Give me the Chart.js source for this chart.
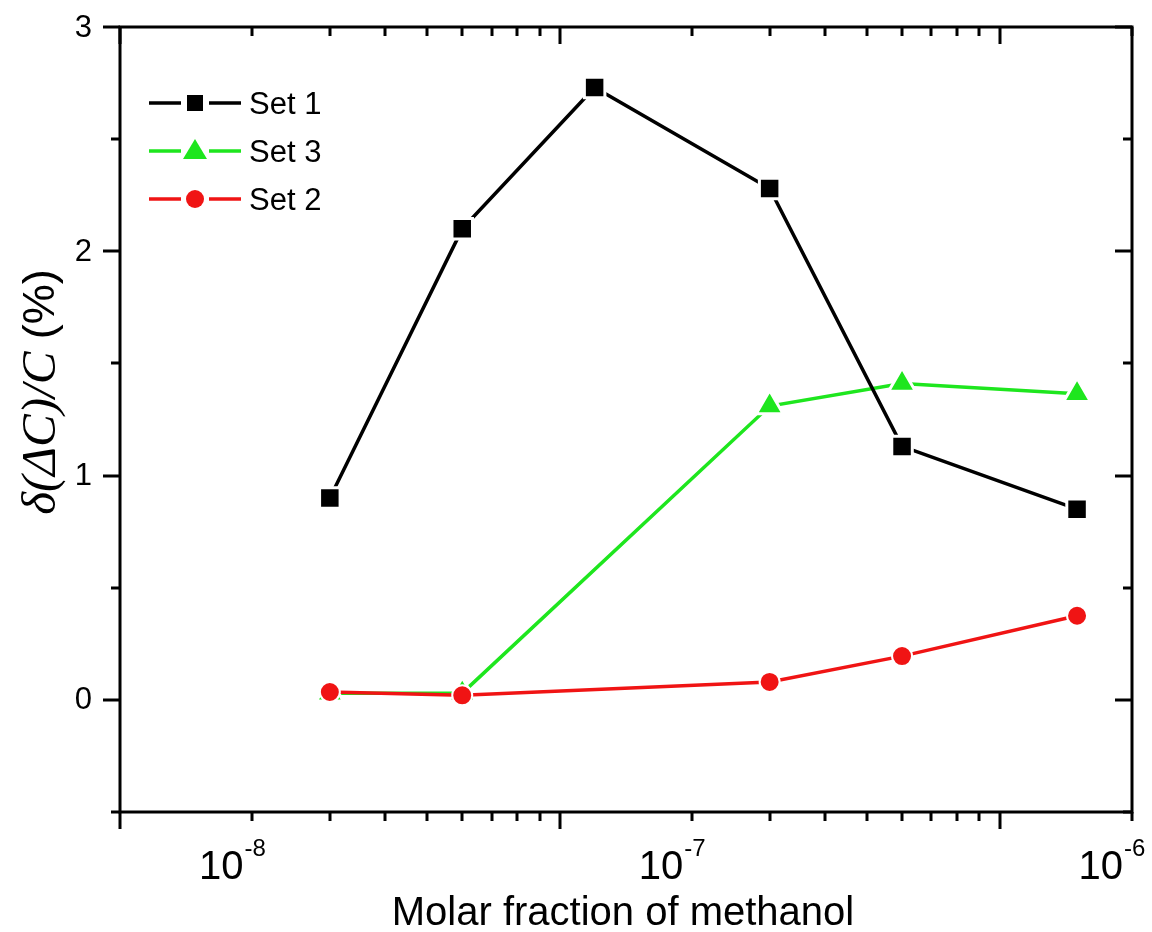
<!DOCTYPE html>
<html>
<head>
<meta charset="utf-8">
<script src="https://cdn.jsdelivr.net/npm/chart.js@4.4.1/dist/chart.umd.min.js"></script>
<style>
  html, body { margin: 0; padding: 0; background: #fff; }
  #wrap { width: 1152px; height: 932px; }
</style>
</head>
<body>
<div id="wrap"><canvas id="chart" width="1152" height="932"></canvas></div>
<script>
// Data
const xSet1 = [1.5e-8, 3e-8, 6e-8, 1.5e-7, 3e-7, 7.5e-7];
const ySet1 = [0.90, 2.10, 2.73, 2.28, 1.13, 0.85];

const xSet23 = [1.5e-8, 3e-8, 1.5e-7, 3e-7, 7.5e-7];
const ySet3 = [0.03, 0.03, 1.31, 1.41, 1.365];
const ySet2 = [0.035, 0.02, 0.08, 0.195, 0.375];

// Axis ticks / labels
const xLabelValues = [1e-8, 1e-7, 1e-6];
const xLabelExps = ['-8', '-7', '-6'];
const xTickStart = 5e-9;           // ticks run k * 5e-9 * 10^n, k = 1 is the long one
const yMajor = [0, 1, 2, 3];
const yMinor = [-0.5, 0.5, 1.5, 2.5];
const legendItems = ['Set 1', 'Set 3', 'Set 2'];

const BLACK = '#000000';
const GREEN = '#1ee61e';
const RED = '#f01414';
const SANS = '"Liberation Sans", Arial, sans-serif';

function pts(xs, ys) {
    return xs.map((x, i) => ({ x: x, y: ys[i] }));
}

function xTicks() {
    const list = [];
    for (let n = 0; n < 3; n++) {
        for (let k = 1; k <= 9; k++) {
            const v = k * xTickStart * Math.pow(10, n);
            if (v <= 1.0001e-6) list.push({ v: v, long: k === 1 });
        }
    }
    return list;
}

const frame = {
    id: 'frame',
    afterDraw(chart) {
        const ctx = chart.ctx;
        const a = chart.chartArea;
        const xs = chart.scales.x;
        const ys = chart.scales.y;
        const LONG = 17, SHORT = 9;

        ctx.save();
        ctx.strokeStyle = BLACK;
        ctx.lineWidth = 3;
        ctx.lineCap = 'butt';
        ctx.strokeRect(a.left, a.top, a.right - a.left, a.bottom - a.top);

        ctx.beginPath();
        xTicks().forEach(t => {
            const px = Math.round(xs.getPixelForValue(t.v));
            const len = t.long ? LONG : SHORT;
            ctx.moveTo(px, a.bottom); ctx.lineTo(px, a.bottom + len);
            ctx.moveTo(px, a.top); ctx.lineTo(px, a.top + len);
        });
        yMajor.concat(yMinor).forEach(v => {
            const py = Math.round(ys.getPixelForValue(v));
            const len = yMajor.includes(v) ? LONG : SHORT;
            ctx.moveTo(a.left, py); ctx.lineTo(a.left - len, py);
            ctx.moveTo(a.right, py); ctx.lineTo(a.right - len, py);
        });
        ctx.stroke();

        // y tick labels
        ctx.fillStyle = BLACK;
        ctx.font = '31px ' + SANS;
        ctx.textAlign = 'right';
        ctx.textBaseline = 'middle';
        yMajor.forEach(v => {
            ctx.fillText(String(v), a.left - 28, ys.getPixelForValue(v) + 1);
        });

        // x tick labels 10^n
        ctx.textAlign = 'left';
        ctx.textBaseline = 'alphabetic';
        xLabelValues.forEach((v, i) => {
            const px = xs.getPixelForValue(v);
            ctx.font = '40px ' + SANS;
            const wBase = ctx.measureText('10').width;
            ctx.font = '24px ' + SANS;
            const wExp = ctx.measureText(xLabelExps[i]).width;
            const left = px - 20 - (wBase + wExp + 1) / 2;
            ctx.font = '40px ' + SANS;
            ctx.fillText('10', left, a.bottom + 67);
            ctx.font = '24px ' + SANS;
            ctx.fillText(xLabelExps[i], left + wBase + 1, a.bottom + 44);
        });

        // x title
        ctx.font = '40px ' + SANS;
        ctx.textAlign = 'center';
        ctx.fillText('Molar fraction of methanol', (a.left + a.right) / 2 - 3, 925);

        // y title, mixed italic
        ctx.translate(42, 392);
        ctx.rotate(-Math.PI / 2);
        const parts = [
            { t: 'δ(ΔC)/C', f: 'italic 49px "Liberation Serif", "Times New Roman", serif' },
            { t: ' (%)', f: '45px ' + SANS }
        ];
        let total = 0;
        parts.forEach(p => { ctx.font = p.f; p.w = ctx.measureText(p.t).width; total += p.w; });
        let cx = -total / 2;
        ctx.textAlign = 'left';
        ctx.textBaseline = 'middle';
        parts.forEach(p => { ctx.font = p.f; ctx.fillText(p.t, cx, 0); cx += p.w; });
        ctx.restore();

        // legend
        ctx.save();
        const styles = { 'Set 1': ['rect', BLACK], 'Set 3': ['triangle', GREEN], 'Set 2': ['circle', RED] };
        legendItems.forEach((name, i) => {
            const y = 103 + i * 48;
            const [shape, col] = styles[name];
            ctx.strokeStyle = col;
            ctx.fillStyle = col;
            ctx.lineWidth = 3.5;
            ctx.beginPath();
            ctx.moveTo(149, y); ctx.lineTo(181, y);
            ctx.moveTo(209, y); ctx.lineTo(241, y);
            ctx.stroke();
            ctx.beginPath();
            if (shape === 'rect') {
                ctx.rect(187, y - 8, 16, 16);
            } else if (shape === 'circle') {
                ctx.arc(195, y, 9, 0, Math.PI * 2);
            } else {
                ctx.moveTo(195, y - 12); ctx.lineTo(207, y + 8); ctx.lineTo(183, y + 8); ctx.closePath();
            }
            ctx.fill();
            ctx.fillStyle = BLACK;
            ctx.font = '31px ' + SANS;
            ctx.textAlign = 'left';
            ctx.textBaseline = 'middle';
            ctx.fillText(name, 249, y + 2);
        });
        ctx.restore();
    }
};

const hiddenAxis = {
    ticks: { display: false },
    grid: { display: false },
    border: { display: false }
};

new Chart(document.getElementById('chart'), {
    type: 'line',
    data: {
        datasets: [
            {
                label: 'Set 1', data: pts(xSet1, ySet1), order: 1,
                borderColor: BLACK, backgroundColor: BLACK, borderWidth: 3.5,
                pointStyle: 'rect', pointRadius: 14.5,
                pointBorderColor: '#fff', pointBorderWidth: 3
            },
            {
                label: 'Set 3', data: pts(xSet23, ySet3), order: 2,
                borderColor: GREEN, backgroundColor: GREEN, borderWidth: 3.5,
                pointStyle: 'triangle', pointRadius: 15.5,
                pointBorderColor: '#fff', pointBorderWidth: 3
            },
            {
                label: 'Set 2', data: pts(xSet23, ySet2), order: 0,
                borderColor: RED, backgroundColor: RED, borderWidth: 3.5,
                pointStyle: 'circle', pointRadius: 10,
                pointBorderColor: '#fff', pointBorderWidth: 2
            }
        ]
    },
    options: {
        responsive: false,
        animation: false,
        events: [],
        layout: { padding: { top: 27, right: 20, left: 0, bottom: 0 } },
        plugins: { legend: { display: false }, tooltip: { enabled: false } },
        scales: {
            x: Object.assign({
                type: 'logarithmic', min: 5e-9, max: 1e-6,
                afterFit(s) { s.height = 120; }
            }, hiddenAxis),
            y: Object.assign({
                type: 'linear', min: -0.5, max: 3,
                afterFit(s) { s.width = 120; }
            }, hiddenAxis)
        }
    },
    plugins: [frame]
});
</script>
</body>
</html>
